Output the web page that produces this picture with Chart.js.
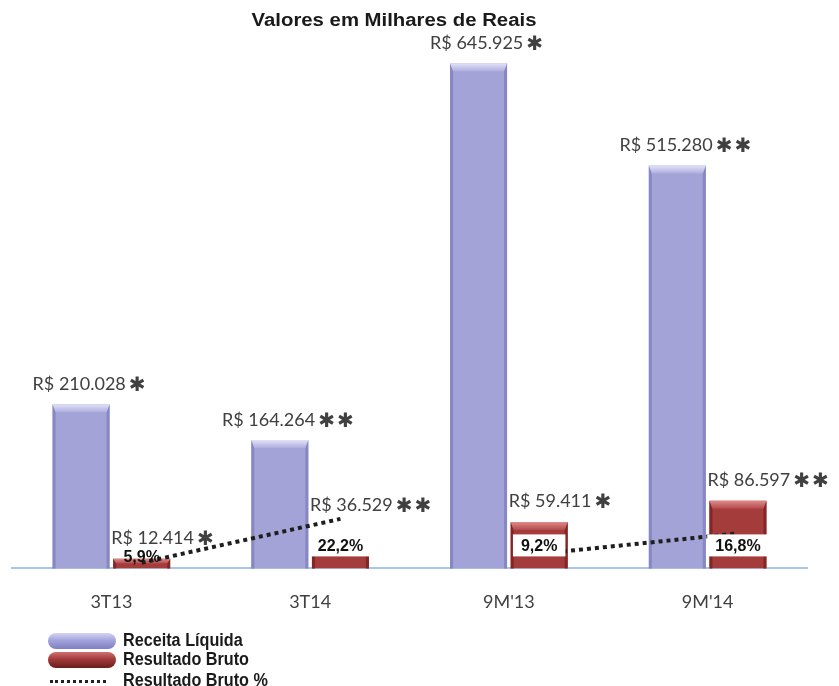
<!DOCTYPE html>
<html>
<head>
<meta charset="utf-8">
<script src="https://cdn.jsdelivr.net/npm/chart.js@4.4.0/dist/chart.umd.min.js"></script>
<style>
  html, body { margin: 0; background: #fff; }
  #wrap { position: relative; width: 839px; height: 686px; }
  .pill { position: absolute; left: 48px; width: 68px; height: 16px; border-radius: 8px; }
  .lg { position: absolute; left: 123px; font: bold 18px 'Liberation Sans', Arial, sans-serif; color: #1a1a1a;
        line-height: 18px; transform: scaleX(0.9); transform-origin: left center; white-space: nowrap; }
</style>
</head>
<body>
<div id="wrap">
  <canvas id="c" width="839" height="686"></canvas>
  <div class="pill" style="top:633px;background:linear-gradient(#d4d4f4,#a4a4dc 45%,#7e7ec2);"></div>
  <div class="lg" style="top:631px">Receita Líquida</div>
  <div class="pill" style="top:652px;background:linear-gradient(#d27070,#a23a3a 45%,#6a1c1c);"></div>
  <div class="lg" style="top:650px">Resultado Bruto</div>
  <div style="position:absolute;left:50px;top:680px;width:56px;border-top:3px dotted #222;"></div>
  <div class="lg" style="top:671px">Resultado Bruto %</div>
</div>
<script>
/* Dados — valores em milhares de reais */
const categories        = ['3T13', '3T14', "9M'13", "9M'14"];
const receitaLiquida    = [210028, 164264, 645925, 515280];
const resultadoBruto    = [12414, 36529, 59411, 86597];
const resultadoBrutoPct = [5.9, 22.2, 9.2, 16.8];
const receitaMarks      = ['✱', '✱✱', '✱', '✱✱'];
const brutoMarks        = ['✱', '✱✱', '✱', '✱✱'];

const TITLE = 'Valores em Milhares de Reais';
const CAT_PCT = 0.61;
const BAR_PCT = 0.94;

const PURPLE = { base: '#a3a3d7', side: '#8787c4', top1: '#e2e2f8', top2: '#aeaede' };
const RED    = { base: '#a53c3c', side: '#842626', top1: '#e08a8a', top2: '#b24a4a' };
const TEXT   = '#404040';
const VAL_FONT  = '18px Lato, "DejaVu Sans", sans-serif';
const MARK_FONT = '20px "DejaVu Sans", sans-serif';

const fmtMil = v => String(v).replace(/\B(?=(\d{3})+(?!\d))/g, '.');
const fmtPct = v => v.toFixed(1).replace('.', ',') + '%';

/* Relevo nas barras + linha % deslocada para o centro das barras vermelhas */
const bevel = {
  id: 'bevel',
  beforeDatasetDraw(chart, args) {
    if (args.meta.type !== 'line') return;
    const red = chart.getDatasetMeta(2).data[0];
    const pt = args.meta.data[0];
    chart.ctx.save();
    chart.ctx.translate(red.x - pt.x, 0);
  },
  afterDatasetDraw(chart, args) {
    const ctx = chart.ctx;
    if (args.meta.type === 'line') { ctx.restore(); return; }
    const pal = args.index === 1 ? PURPLE : RED;
    const poly = pts => {
      ctx.beginPath();
      pts.forEach(([x, y], i) => (i ? ctx.lineTo(x, y) : ctx.moveTo(x, y)));
      ctx.closePath();
      ctx.fill();
    };
    args.meta.data.forEach(bar => {
      const l = bar.x - bar.width / 2, r = bar.x + bar.width / 2;
      const t = bar.y, b = bar.base;
      const d = Math.min(8, (b - t) / 2), s = Math.min(3, d);
      ctx.save();
      ctx.fillStyle = pal.side;
      poly([[l, t], [l + s, t + d], [l + s, b], [l, b]]);
      poly([[r, t], [r - s, t + d], [r - s, b], [r, b]]);
      const g = ctx.createLinearGradient(0, t, 0, t + d);
      g.addColorStop(0, pal.top1);
      g.addColorStop(1, pal.top2);
      ctx.fillStyle = g;
      poly([[l, t], [r, t], [r - s, t + d], [l + s, t + d]]);
      ctx.restore();
    });
  },
};

/* "R$ 000.000" + asteriscos um pouco maiores; x = início do texto */
function drawValue(ctx, txt, marks, x, y) {
  ctx.font = VAL_FONT;
  ctx.fillText(txt, x, y);
  const w = ctx.measureText(txt).width;
  ctx.font = MARK_FONT;
  ctx.letterSpacing = '2px';
  ctx.fillText(marks, x + w + 3, y + 1);
  ctx.letterSpacing = '0px';
}
function valueWidth(ctx, txt, marks) {
  ctx.font = VAL_FONT;
  const w = ctx.measureText(txt).width;
  ctx.font = MARK_FONT;
  ctx.letterSpacing = '2px';
  const m = ctx.measureText(marks).width;
  ctx.letterSpacing = '0px';
  return w + 3 + m;
}

/* Título e rótulos de valor */
const labels = {
  id: 'labels',
  afterDatasetsDraw(chart) {
    const ctx = chart.ctx;
    const line = chart.getDatasetMeta(0).data;
    ctx.save();
    ctx.fillStyle = '#1a1a1a';
    ctx.font = 'bold 18px "Liberation Sans", Arial, sans-serif';
    ctx.textAlign = 'center';
    ctx.textBaseline = 'alphabetic';
    ctx.save();
    ctx.translate(394, 26);
    ctx.scale(1.13, 1);
    ctx.fillText(TITLE, 0, 0);
    ctx.restore();

    ctx.fillStyle = TEXT;
    ctx.textAlign = 'left';
    chart.getDatasetMeta(1).data.forEach((bar, i) => {
      const txt = `R$ ${fmtMil(receitaLiquida[i])}`;
      const w = valueWidth(ctx, txt, receitaMarks[i]);
      drawValue(ctx, txt, receitaMarks[i], bar.x + 9 - w / 2, bar.y - 14);
    });
    chart.getDatasetMeta(2).data.forEach((bar, i) => {
      const txt = `R$ ${fmtMil(resultadoBruto[i])}`;
      drawValue(ctx, txt, brutoMarks[i], bar.x - bar.width / 2 - 2, Math.min(bar.y - 15, line[i].y - 8));
    });

    ctx.font = 'bold 16px "Liberation Sans", Arial, sans-serif';
    ctx.textAlign = 'center';
    ctx.textBaseline = 'middle';
    chart.getDatasetMeta(2).data.forEach((bar, i) => {
      const txt = fmtPct(resultadoBrutoPct[i]);
      const w = ctx.measureText(txt).width + 16;
      const h = bar.base - bar.y;
      const cy = Math.min(bar.base - 12, Math.max(bar.y + 4, bar.base - 23));
      if (h >= 24) {
        ctx.fillStyle = '#fff';
        ctx.fillRect(bar.x - w / 2, cy - 11, w, 22);
      }
      ctx.fillStyle = '#111';
      ctx.fillText(txt, bar.x, cy + 1);
    });
    ctx.restore();
  },
};

new Chart(document.getElementById('c'), {
  type: 'bar',
  data: {
    labels: categories,
    datasets: [
      {
        type: 'line',
        label: 'Resultado Bruto %',
        data: resultadoBrutoPct,
        yAxisID: 'yPct',
        borderColor: '#1e1e1e', borderWidth: 4, borderDash: [4, 4],
        borderCapStyle: 'butt', pointRadius: 0, tension: 0, fill: false,
        segment: { borderColor: c => (c.p0DataIndex === 1 ? 'rgba(0,0,0,0)' : undefined) },
        order: 0,
      },
      {
        label: 'Receita Líquida',
        data: receitaLiquida,
        backgroundColor: PURPLE.base,
        categoryPercentage: CAT_PCT, barPercentage: BAR_PCT,
        order: 1,
      },
      {
        label: 'Resultado Bruto',
        data: resultadoBruto,
        backgroundColor: RED.base,
        categoryPercentage: CAT_PCT, barPercentage: BAR_PCT,
        order: 1,
      },
    ],
  },
  options: {
    responsive: false, animation: false,
    layout: { padding: { left: 12, right: 32, top: 21, bottom: 50 } },
    plugins: { legend: { display: false }, tooltip: { enabled: false }, title: { display: false } },
    scales: {
      x: {
        grid: { color: 'rgba(0,0,0,0)', drawTicks: false },
        border: { color: '#a9c6ea', width: 2 },
        ticks: { color: TEXT, padding: 23, font: { family: 'Lato', size: 18 } },
      },
      y: { display: false, min: 0, max: 700000 },
      yPct: { display: false, min: 3.8, max: 207.3 },
    },
  },
  plugins: [bevel, labels],
});
</script>
</body>
</html>
